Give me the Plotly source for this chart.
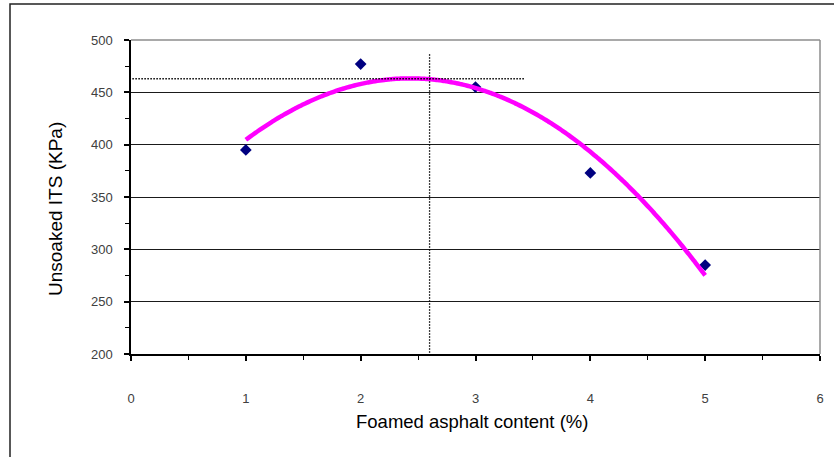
import numpy as np
import plotly.graph_objects as go

# Measured unsoaked indirect tensile strength vs foamed asphalt content
asphalt_content = [1, 2, 3, 4, 5]          # %
unsoaked_its = [395, 477, 455, 373, 285]   # kPa

# Optimum read-off guide lines
optimum_content = 2.6   # %
optimum_its = 463       # kPa

x_ticks = [0, 1, 2, 3, 4, 5, 6]
y_ticks = [200, 250, 300, 350, 400, 450, 500]

# Second-order polynomial trendline through the measurements
coef = np.polyfit(asphalt_content, unsoaked_its, 2)
trend_x = np.linspace(min(asphalt_content), max(asphalt_content), 200)
trend_y = np.polyval(coef, trend_x)

FONT = "Liberation Sans, Arial, sans-serif"

fig = go.Figure()
fig.add_trace(go.Scatter(
    x=asphalt_content, y=unsoaked_its, mode="markers",
    marker=dict(symbol="diamond", size=9, color="#000080"),
    showlegend=False,
))
# trendline is drawn over the measured points
fig.add_trace(go.Scatter(
    x=trend_x, y=trend_y, mode="lines",
    line=dict(color="#FF00FF", width=4.5, simplify=False, shape="spline"),
    hoverinfo="skip", showlegend=False,
))

W, H = 834, 457
L, R, T, B = 131, 14, 40, 103
pw, ph = W - L - R, H - T - B

def px(xpix):
    return (xpix - L) / pw

def py(ypix):
    return (H - B - ypix) / ph

DOTS = "1.5px,1.5px"

shapes = [
    # outer frame
    dict(type="rect", xref="paper", yref="paper",
         x0=px(10), x1=px(845), y0=py(470), y1=py(4),
         line=dict(color="#222222", width=1.5), layer="below"),
    # plot-area border (top and right are grey)
    dict(type="line", xref="paper", yref="paper", x0=0, x1=1, y0=1, y1=1,
         line=dict(color="#8c8c8c", width=1.5), layer="above"),
    dict(type="line", xref="paper", yref="paper", x0=1, x1=1, y0=0, y1=1,
         line=dict(color="#8c8c8c", width=1.5), layer="above"),
    # dotted guide lines at the optimum
    dict(type="line", xref="x", yref="y",
         x0=-0.38, x1=3.43, y0=optimum_its, y1=optimum_its,
         line=dict(color="#000000", width=1.3, dash=DOTS), layer="above"),
    dict(type="line", xref="x", yref="y",
         x0=optimum_content, x1=optimum_content, y0=192.5, y1=486.5,
         line=dict(color="#000000", width=1.3, dash=DOTS), layer="above"),
]

annotations = [
    dict(text="Foamed asphalt content (%)", xref="paper", yref="paper",
         x=px(472), y=py(421), xanchor="center", yanchor="middle",
         showarrow=False, font=dict(size=18.5, color="#000000")),
    dict(text="Unsoaked ITS (KPa)", xref="paper", yref="paper",
         x=px(55), y=py(209), xanchor="center", yanchor="middle",
         textangle=-90, showarrow=False, font=dict(size=19, color="#000000")),
]

fig.update_layout(
    width=W, height=H,
    margin=dict(l=L, r=R, t=T, b=B, autoexpand=False),
    paper_bgcolor="white", plot_bgcolor="white",
    font=dict(family=FONT, color="#333333", size=12),
    shapes=shapes,
    annotations=annotations,
    showlegend=False,
)

fig.update_xaxes(
    range=[0, 6], tickvals=x_ticks, ticktext=[str(v) for v in x_ticks],
    showgrid=False, zeroline=False,
    showline=True, linecolor="#000000", linewidth=1.5,
    ticks="outside", ticklen=5, tickcolor="#000000", tickwidth=1.5,
    minor=dict(dtick=0.5, ticks="outside", ticklen=4, tickcolor="#000000", tickwidth=1, showgrid=False),
    tickfont=dict(size=13, color="#404040"),
    ticklabelstandoff=27,
    automargin=False,
)
fig.update_yaxes(
    range=[200, 500], tickvals=y_ticks, ticktext=[str(v) for v in y_ticks],
    showgrid=True, gridcolor="#1a1a1a", gridwidth=1,
    zeroline=False,
    showline=True, linecolor="#000000", linewidth=1.5,
    ticks="outside", ticklen=5, tickcolor="#000000", tickwidth=1.5,
    minor=dict(dtick=25, ticks="outside", ticklen=4, tickcolor="#000000", tickwidth=1, showgrid=False),
    tickfont=dict(size=13, color="#404040"),
    ticklabelstandoff=9,
    automargin=False,
)

fig.write_html("out.html")
